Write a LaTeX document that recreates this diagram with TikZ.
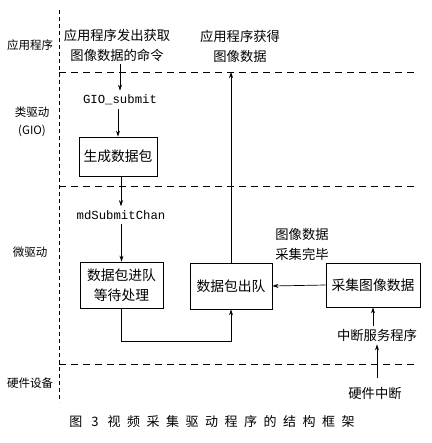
\documentclass[tikz,border=0pt]{standalone}
\usepackage{fontspec}
\newfontfamily\cjk{Noto Sans CJK SC}
\setmonofont{Liberation Mono}
\usetikzlibrary{arrows.meta}
\tikzset{
  txt/.style={inner sep=0pt, align=center, font=\cjk\fontsize{13.3}{20}\selectfont},
  side/.style={inner sep=0pt, align=center, font=\cjk\fontsize{11.5}{18}\selectfont},
  code/.style={inner sep=0pt, font=\ttfamily\fontsize{12.3}{14}\selectfont},
  box/.style={draw, line width=0.8pt, inner sep=0pt, align=center, font=\cjk\fontsize{13.8}{20}\selectfont},
  arr/.style={line width=0.7pt, -{Stealth[length=6pt,width=4pt]}},
  lane/.style={line width=0.8pt, dash pattern=on 7pt off 5pt},
  vlane/.style={line width=0.8pt, dash pattern=on 4pt off 3pt},
}
\begin{document}
\begin{tikzpicture}[x=1pt,y=-1pt]
\useasboundingbox (0,0) rectangle (431,443);
% lanes
\coordinate (vt) at (59,10);
\coordinate (vb) at (59,402);
\draw[vlane] (vt) -- (vb);
\coordinate (l1a) at (59,72);  \coordinate (l1b) at (418,72);
\coordinate (l2a) at (59,186); \coordinate (l2b) at (418,186);
\coordinate (l3a) at (59,364); \coordinate (l3b) at (418,364);
\draw[lane] (l1a) -- (l1b);
\draw[lane] (l2a) -- (l2b);
\draw[lane] (l3a) -- (l3b);
% side labels
\node[side] (s1) at (30,45) {应用程序};
\node[side] (s2) at (32,122) {类驱动\\(GIO)};
\node[side] (s3) at (30,252) {微驱动};
\node[side] (s4) at (30,383) {硬件设备};
% texts
\node[txt] (cmd) at (117,45) {应用程序发出获取\\图像数据的命令};
\node[txt] (got) at (240,46) {应用程序获得\\图像数据};
\node[code] (gio) at (120,100) {GIO\_submit};
\node[box, minimum width=78pt, minimum height=39pt] (gen) at (118,156.5) {生成数据包};
\node[code] (md) at (121,215) {mdSubmitChan};
\node[box, minimum width=83pt, minimum height=46pt] (enq) at (121.5,285) {数据包进队\\等待处理};
\node[box, minimum width=82pt, minimum height=46pt] (deq) at (231,286) {数据包出队};
\node[box, minimum width=94pt, minimum height=44pt] (col) at (373,285) {采集图像数据};
\node[txt] (done) at (302,244) {图像数据\\采集完毕};
\node[txt] (isr) at (377,335) {中断服务程序};
\node[txt] (hw) at (375,393) {硬件中断};
\node[inner sep=0pt, font=\cjk\fontsize{13}{16}\selectfont] (cap) at (212,422)
  {图\hspace{9pt}3\hspace{9pt}视\hspace{6.5pt}频\hspace{6.5pt}采\hspace{6.5pt}集\hspace{6.5pt}驱\hspace{6.5pt}动\hspace{6.5pt}程\hspace{6.5pt}序\hspace{6.5pt}的\hspace{6.5pt}结\hspace{6.5pt}构\hspace{6.5pt}框\hspace{6.5pt}架};
% connectors
\draw[arr] ([yshift=-3pt]cmd.south -| gio.north) -- ([yshift=4pt]gio.north);
\draw[arr] ([yshift=-4pt]gio.south -| gen.north) -- (gen.north);
\draw[arr] (gen.south -| md.north) -- ([yshift=4pt]md.north);
\draw[arr] ([yshift=-4pt]md.south -| enq.north) -- (enq.north);
\coordinate (turn) at (231,341);
\draw[arr] (enq.south) |- (turn) -- (deq.south);
\coordinate (up) at (231,72);
\draw[arr] (deq.north) -- (up);
\draw[arr] (col.west) -- (deq.east);
\draw[arr] ([yshift=3pt]isr.north -| col.south) -- (col.south);
\draw[arr] ([yshift=9pt]hw.north -| isr.south) -- ([yshift=-3pt]isr.south);
\end{tikzpicture}
\end{document}
